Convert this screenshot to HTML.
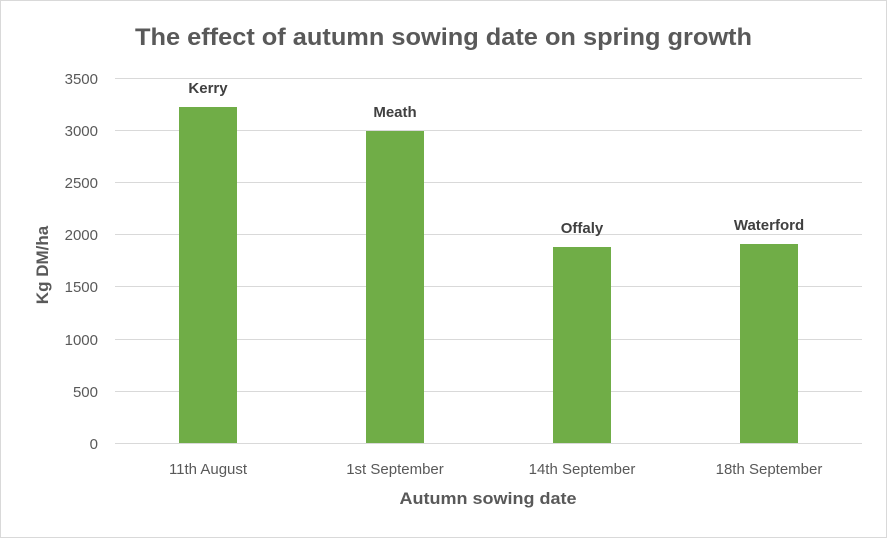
<!DOCTYPE html>
<html><head><style>
body{margin:0;background:#fff;}
svg{display:block;font-family:"Liberation Sans",sans-serif;}
</style></head><body>
<svg width="887" height="538" xmlns="http://www.w3.org/2000/svg">
<rect x="0.5" y="0.5" width="886" height="537" fill="#fff" stroke="#d9d9d9"/>
<text x="135" y="45" textLength="617" lengthAdjust="spacingAndGlyphs" font-size="24" font-weight="bold" fill="#595959">The effect of autumn sowing date on spring growth</text>
<g stroke="#d9d9d9" stroke-width="1">
<line x1="115" x2="862" y1="78.5" y2="78.5"/>
<line x1="115" x2="862" y1="130.5" y2="130.5"/>
<line x1="115" x2="862" y1="182.5" y2="182.5"/>
<line x1="115" x2="862" y1="234.5" y2="234.5"/>
<line x1="115" x2="862" y1="286.5" y2="286.5"/>
<line x1="115" x2="862" y1="339.5" y2="339.5"/>
<line x1="115" x2="862" y1="391.5" y2="391.5"/>
<line x1="115" x2="862" y1="443.5" y2="443.5"/>
</g>
<g font-size="15" fill="#595959" text-anchor="end">
<text x="98" y="84">3500</text>
<text x="98" y="136">3000</text>
<text x="98" y="188">2500</text>
<text x="98" y="240">2000</text>
<text x="98" y="292">1500</text>
<text x="98" y="345">1000</text>
<text x="98" y="397">500</text>
<text x="98" y="449">0</text>
</g>
<g fill="#70ad47">
<rect x="179" y="107" width="58" height="336"/>
<rect x="366" y="131" width="58" height="312"/>
<rect x="553" y="247" width="58" height="196"/>
<rect x="740" y="244" width="58" height="199"/>
</g>
<g font-size="15" font-weight="bold" fill="#404040" text-anchor="middle">
<text x="208" y="93">Kerry</text>
<text x="395" y="117">Meath</text>
<text x="582" y="233">Offaly</text>
<text x="769" y="230">Waterford</text>
</g>
<g font-size="15" fill="#595959" text-anchor="middle">
<text x="208" y="474">11th August</text>
<text x="395" y="474">1st September</text>
<text x="582" y="474">14th September</text>
<text x="769" y="474">18th September</text>
</g>
<text x="488" y="504" text-anchor="middle" font-size="17" font-weight="bold" fill="#595959" textLength="177" lengthAdjust="spacingAndGlyphs">Autumn sowing date</text>
<text transform="translate(48,265) rotate(-90)" text-anchor="middle" font-size="17" font-weight="bold" fill="#595959">Kg DM/ha</text>
</svg>
</body></html>
